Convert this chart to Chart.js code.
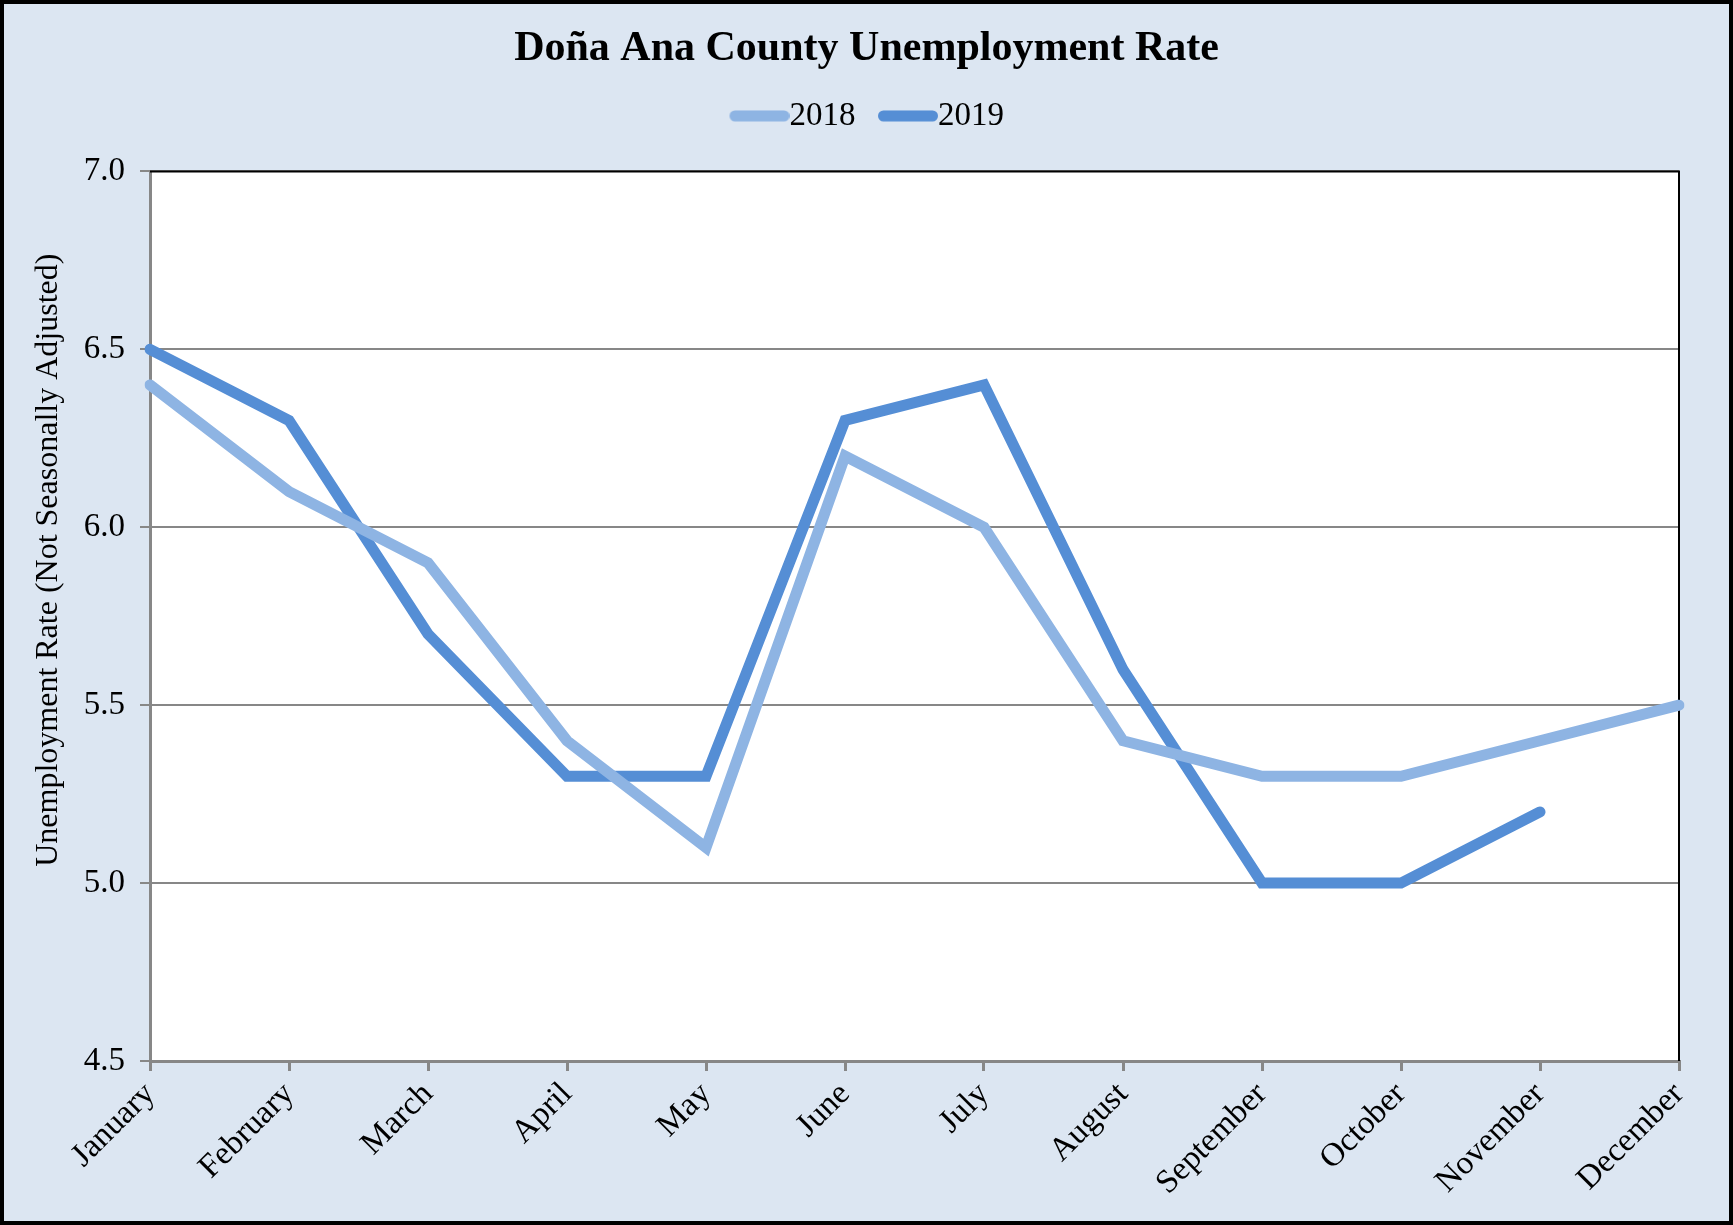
<!DOCTYPE html>
<html>
<head>
<meta charset="utf-8">
<script src="https://cdn.jsdelivr.net/npm/chart.js@4/dist/chart.umd.min.js"></script>
<style>
  html, body { margin: 0; padding: 0; background: #DCE6F2; }
  #wrap { width: 1733px; height: 1225px; position: relative; }
</style>
</head>
<body>
<div id="wrap"><canvas id="G1"></canvas></div>
<script>
const months = ['January', 'February', 'March', 'April', 'May', 'June',
  'July', 'August', 'September', 'October', 'November', 'December'];
const rate2018 = [6.4, 6.1, 5.9, 5.4, 5.1, 6.2, 6.0, 5.4, 5.3, 5.3, 5.4, 5.5];
const rate2019 = [6.5, 6.3, 5.7, 5.3, 5.3, 6.3, 6.4, 5.6, 5.0, 5.0, 5.2, null];
const yTicks = [4.5, 5.0, 5.5, 6.0, 6.5, 7.0];
const colors = ['#8EB4E3', '#558ED5'];

const FONT = 'Liberation Serif, Times New Roman, serif';
const LEGEND_GAP = 29;

// rounded legend swatch, drawn at the right end of the image so it sits against the text
function swatch(color) {
  const c = document.createElement('canvas');
  c.width = 77; c.height = 12;
  const g = c.getContext('2d');
  g.fillStyle = color;
  g.beginPath();
  if (g.roundRect) g.roundRect(17, 0.5, 60, 11, 5.5); else g.rect(17, 0.5, 60, 11);
  g.fill();
  return c;
}
const swatches = colors.map(swatch);

// panel background, white plot area, frame
const frame = {
  id: 'frame',
  beforeLayout(chart) {
    const lg = chart.legend;
    if (lg && !lg.__gap) {
      const fit = lg.fit;
      lg.fit = function () { fit.call(this); this.height += LEGEND_GAP; };
      lg.__gap = true;
    }
  },
  beforeDraw(chart) {
    const { ctx, chartArea: a, width, height } = chart;
    ctx.save();
    ctx.fillStyle = '#DCE6F2';
    ctx.fillRect(0, 0, width, height);
    ctx.fillStyle = '#FFFFFF';
    ctx.fillRect(a.left, a.top, a.right - a.left, a.bottom - a.top);
    ctx.restore();
  },
  beforeDatasetsDraw(chart) {
    const { ctx, chartArea: a } = chart;
    ctx.save();
    ctx.strokeStyle = '#000';
    ctx.lineWidth = 2;
    ctx.beginPath();
    ctx.moveTo(a.left, a.top);
    ctx.lineTo(a.right, a.top);
    ctx.lineTo(a.right, a.bottom);
    ctx.stroke();
    ctx.restore();
  },
  afterDraw(chart) {
    const { ctx, width, height } = chart;
    ctx.save();
    ctx.strokeStyle = '#000';
    ctx.lineWidth = 4;
    ctx.strokeRect(2, 2, width - 4, height - 4);
    ctx.restore();
  }
};

new Chart(document.getElementById('G1'), {
  type: 'line',
  data: {
    labels: months,
    datasets: [
      { label: '2018', data: rate2018, borderColor: colors[0], backgroundColor: colors[0] },
      { label: '2019', data: rate2019, borderColor: colors[1], backgroundColor: colors[1] }
    ]
  },
  options: {
    responsive: true,
    maintainAspectRatio: false,
    animation: false,
    devicePixelRatio: 1,
    layout: { padding: 0 },
    elements: {
      line: { borderWidth: 11, borderCapStyle: 'round', tension: 0 },
      point: { radius: 0 }
    },
    plugins: {
      tooltip: { enabled: false },
      title: {
        display: true,
        text: 'Doña Ana County Unemployment Rate',
        color: '#000',
        font: { family: FONT, size: 42, weight: 'bold' },
        padding: { top: 24, bottom: 3 }
      },
      legend: {
        display: true,
        labels: {
          color: '#000',
          font: { family: FONT, size: 33 },
          usePointStyle: true,
          pointStyleWidth: 44,
          padding: 22,
          generateLabels(chart) {
            return Chart.defaults.plugins.legend.labels.generateLabels(chart)
              .map(l => Object.assign(l, { lineWidth: 0, pointStyle: swatches[l.datasetIndex] }));
          }
        }
      }
    },
    scales: {
      x: {
        offset: false,
        grid: { drawOnChartArea: false, drawTicks: true, tickLength: 10, color: '#878787', lineWidth: 3 },
        border: { color: '#878787', width: 3 },
        ticks: {
          color: '#000',
          font: { family: FONT, size: 33 },
          maxRotation: 45,
          minRotation: 45,
          padding: 4,
          autoSkip: false
        },
        afterFit(scale) { scale.height = 164; }
      },
      y: {
        min: 4.5,
        max: 7.0,
        afterBuildTicks(scale) { scale.ticks = yTicks.map(v => ({ value: v })); },
        grid: { color: '#878787', lineWidth: 2, tickLength: 10 },
        border: { color: '#878787', width: 3 },
        ticks: {
          color: '#000',
          font: { family: FONT, size: 33 },
          padding: 15,
          callback: v => v.toFixed(1)
        },
        title: {
          display: true,
          text: '              Unemployment Rate (Not Seasonally Adjusted)',
          color: '#000',
          font: { family: FONT, size: 32 },
          padding: { top: 29, bottom: 0 }
        },
        afterFit(scale) { scale.width = 150; }
      },
      // empty right margin so title and legend stay centred on the panel
      yRight: {
        position: 'right',
        min: 4.5,
        max: 7.0,
        grid: { display: false },
        border: { display: false },
        ticks: { display: false },
        afterFit(scale) { scale.width = 54; }
      }
    }
  },
  plugins: [frame]
});
</script>
</body>
</html>
